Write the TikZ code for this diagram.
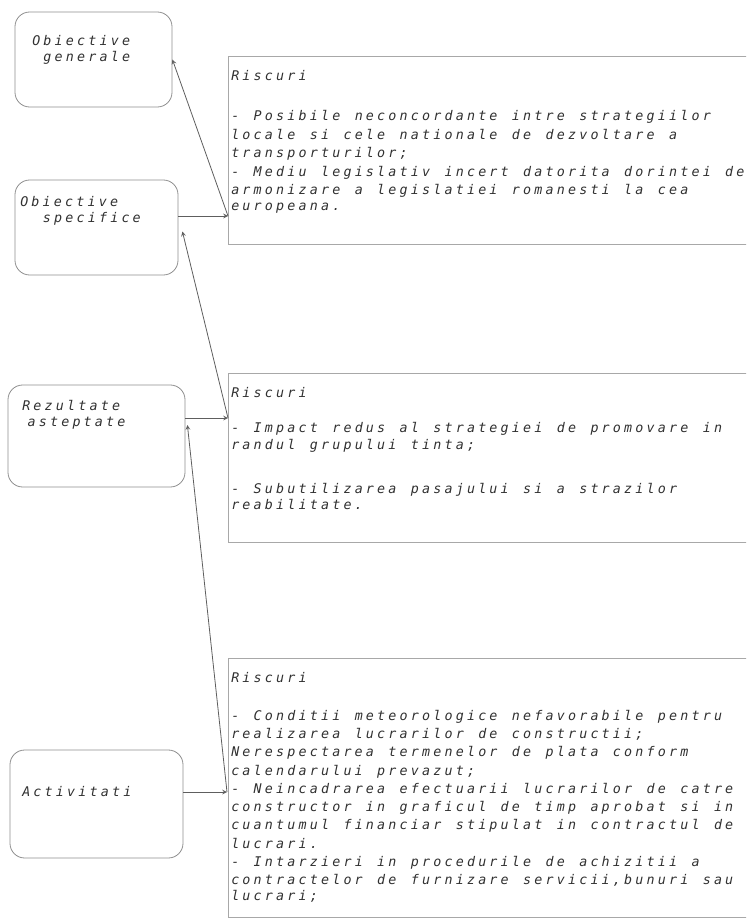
\documentclass[tikz,border=0pt]{standalone}
\usepackage{fontspec}
\newfontfamily\riskfont[ItalicFont={DejaVu Sans Mono Oblique}]{DejaVu Sans Mono}
\usepackage{tikz}
\usetikzlibrary{arrows, positioning, calc}
\definecolor{boxgray}{HTML}{8E8E8E}
\definecolor{riskgray}{HTML}{A8A8A8}
\definecolor{linegray}{HTML}{5E5E5E}
\definecolor{inkgray}{HTML}{303030}
% wide monospace look: a kern between letters, a full cell for each space
\XeTeXinterchartoks 0 0 = {\kern2.4pt}
\newcommand{\riskstyle}[1]{\riskfont\itshape\fontsize{10pt}{#1}\selectfont\XeTeXinterchartokenstate=1 \spaceskip=10.82pt\relax}
\tikzstyle{goal} = [rectangle, rounded corners=11pt, draw=boxgray, line width=0.6pt, inner sep=0pt]
\tikzstyle{risk} = [rectangle, draw=riskgray, line width=0.6pt, inner sep=0pt, minimum width=421.5pt, anchor=north west]
\tikzstyle{goaltext} = [anchor=base west, inner sep=0pt, text width=110pt, align=left, text=inkgray]
\tikzstyle{risktext} = [anchor=base west, inner sep=0pt, text width=500pt, align=left, text=inkgray]
\tikzstyle{arrow} = [line width=0.6pt, draw=linegray, ->, >=stealth]

\begin{document}
\begin{tikzpicture}[x=0.75pt, y=-0.75pt]
\useasboundingbox (0,0) rectangle (746,920);
\clip (0,0) rectangle (746,920);
% Goals
\node (gen) [goal, minimum width=117.75pt, minimum height=71.25pt] at (93.5,59.5) {};
\node (spec) [goal, minimum width=122.25pt, minimum height=71.25pt] at (96.5,227.5) {};
\node (rez) [goal, minimum width=132.75pt, minimum height=76.5pt] at (96.5,436) {};
\node (act) [goal, minimum width=129.75pt, minimum height=81pt] at (96.5,804) {};
\node (gentxt) [goaltext] at (32,46) {\riskstyle{14.6pt}Obiective\\\hspace*{8.4pt}generale};
\node (spectxt) [goaltext] at (20,206) {\riskstyle{14.6pt}Obiective\\\hspace*{17pt}specifice};
\node (reztxt) [goaltext] at (22,410) {\riskstyle{14.6pt}Rezultate\\\hspace*{4pt}asteptate};
\node (acttxt) [goaltext] at (22,796) {\riskstyle{14.6pt}Activitati};

% Risks
\node (risk1) [risk, minimum height=141pt] at (228,56) {};
\node (risk2) [risk, minimum height=126.75pt] at (228,373) {};
\node (risk3) [risk, minimum height=194.25pt] at (228,658) {};
\node (risk1txt) [risktext] at (231,81) {\riskstyle{13.9pt}Riscuri\\[16pt]
- Posibile neconcordante intre strategiilor\\
locale si cele nationale de dezvoltare a\\
transporturilor;\\
- Mediu legislativ incert datorita dorintei de\\
armonizare a legislatiei romanesti la cea\\
europeana.};
\node (risk2txt) [risktext] at (231,397) {\riskstyle{12.5pt}Riscuri\\[14pt]
- Impact redus al strategiei de promovare in\\
randul grupului tinta;\\[20.5pt]
- Subutilizarea pasajului si a strazilor\\
reabilitate.};
\node (risk3txt) [risktext] at (231,682) {\riskstyle{13.7pt}Riscuri\\[15pt]
- Conditii meteorologice nefavorabile pentru\\
realizarea lucrarilor de constructii;\\
Nerespectarea termenelor de plata conform\\
calendarului prevazut;\\
- Neincadrarea efectuarii lucrarilor de catre\\
constructor in graficul de timp aprobat si in\\
cuantumul financiar stipulat in contractul de\\
lucrari.\\
- Intarzieri in procedurile de achizitii a\\
contractelor de furnizare servicii,bunuri sau\\
lucrari;};
\coordinate (risk1in) at (228,216);
\coordinate (risk2in) at (228,418);
\coordinate (risk3in) at (227,792);

% Links
\draw [arrow] (spec.east |- risk1in) -- (risk1in);
\draw [arrow] (risk1in) -- (gen.east);
\draw [arrow] (rez.east |- risk2in) -- (risk2in);
\draw [arrow] (risk2in) -- ([shift={(4,4)}]spec.east);
\draw [arrow] (act.east |- risk3in) -- (risk3in);
\draw [arrow] (risk3in) -- ([shift={(2,-11)}]rez.east);
\end{tikzpicture}
\end{document}
